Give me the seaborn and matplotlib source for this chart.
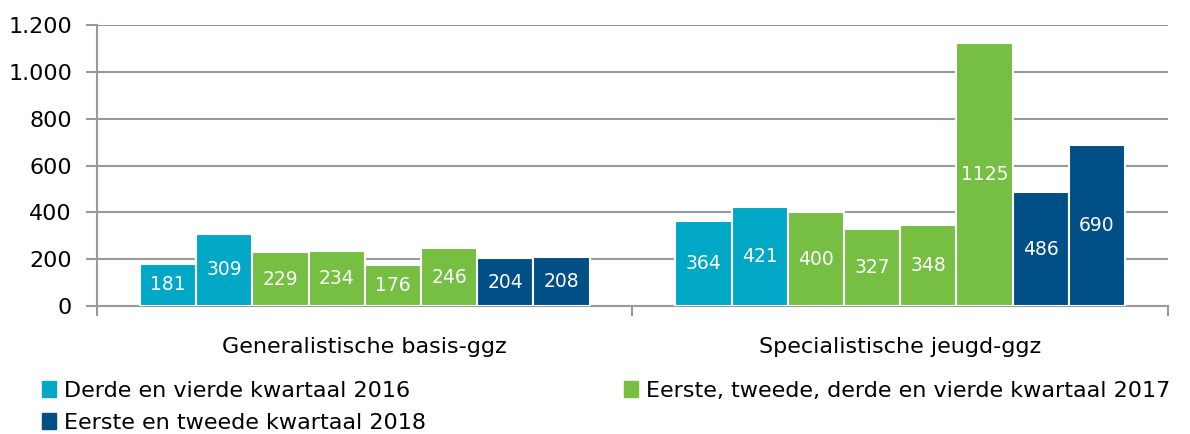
import pandas as pd
import matplotlib.pyplot as plt
import seaborn as sns
from matplotlib.patches import Patch

groups = ['Generalistische basis-ggz', 'Specialistische jeugd-ggz']
periods = ['2016 Q3', '2016 Q4', '2017 Q1', '2017 Q2', '2017 Q3', '2017 Q4', '2018 Q1', '2018 Q2']
basis_ggz = [181, 309, 229, 234, 176, 246, 204, 208]
jeugd_ggz = [364, 421, 400, 327, 348, 1125, 486, 690]
legend_labels = ['Derde en vierde kwartaal 2016',
                 'Eerste, tweede, derde en vierde kwartaal 2017',
                 'Eerste en tweede kwartaal 2018']
period_year = ['2016', '2016', '2017', '2017', '2017', '2017', '2018', '2018']

colors = {'2016': '#00A8C5', '2017': '#76BF43', '2018': '#004F87'}
palette = [colors[y] for y in period_year]

df = pd.DataFrame({
    'groep': [groups[0]] * 8 + [groups[1]] * 8,
    'periode': periods * 2,
    'aantal': basis_ggz + jeugd_ggz,
})

plt.rcParams['font.family'] = ['DejaVu Sans']
fig = plt.figure(figsize=(11.9, 4.34), dpi=100)
ax = fig.add_axes([0.0815, 0.295, 0.9, 0.647])

sns.barplot(data=df, x='groep', y='aantal', hue='periode', palette=palette,
            width=0.84, edgecolor='white', linewidth=1.5, saturation=1,
            legend=False, ax=ax, zorder=3)

# waarden midden in de staven
for cont in ax.containers:
    ax.bar_label(cont, label_type='center', color='white', fontsize=13.5)

ax.set_xlim(-0.5, 1.5)
ax.set_ylim(0, 1200)
ax.set_yticks(range(0, 1201, 200))
ax.set_yticklabels(['0', '200', '400', '600', '800', '1.000', '1.200'], fontsize=16)
ax.yaxis.grid(True, color='#999999', linewidth=1.5, zorder=0)
ax.set_axisbelow(True)
ax.tick_params(axis='y', length=8, color='#999999', width=1.5, pad=10)
ax.set_xticks([0, 1])
ax.set_xticklabels(groups, fontsize=16)
ax.set_xticks([-0.5, 0.5, 1.5], minor=True)
ax.tick_params(axis='x', which='major', length=0, pad=22)
ax.tick_params(axis='x', which='minor', length=7, color='#999999', width=1.5)
ax.set_xlabel('')
ax.set_ylabel('')
for s in ['top', 'right']:
    ax.spines[s].set_visible(False)
for s in ['left', 'bottom']:
    ax.spines[s].set_color('#999999')
    ax.spines[s].set_linewidth(1.5)

handles = [Patch(color=colors['2016'], label=legend_labels[0]),
           Patch(color=colors['2018'], label=legend_labels[2]),
           Patch(color=colors['2017'], label=legend_labels[1])]
fig.legend(handles=handles, ncol=2, loc='lower left', bbox_to_anchor=(0.028, -0.018),
           frameon=False, fontsize=16, handlelength=0.6, handleheight=0.7,
           handletextpad=0.4, columnspacing=8.9, labelspacing=0.55, borderaxespad=0)

fig.savefig('out.png', dpi=100)
